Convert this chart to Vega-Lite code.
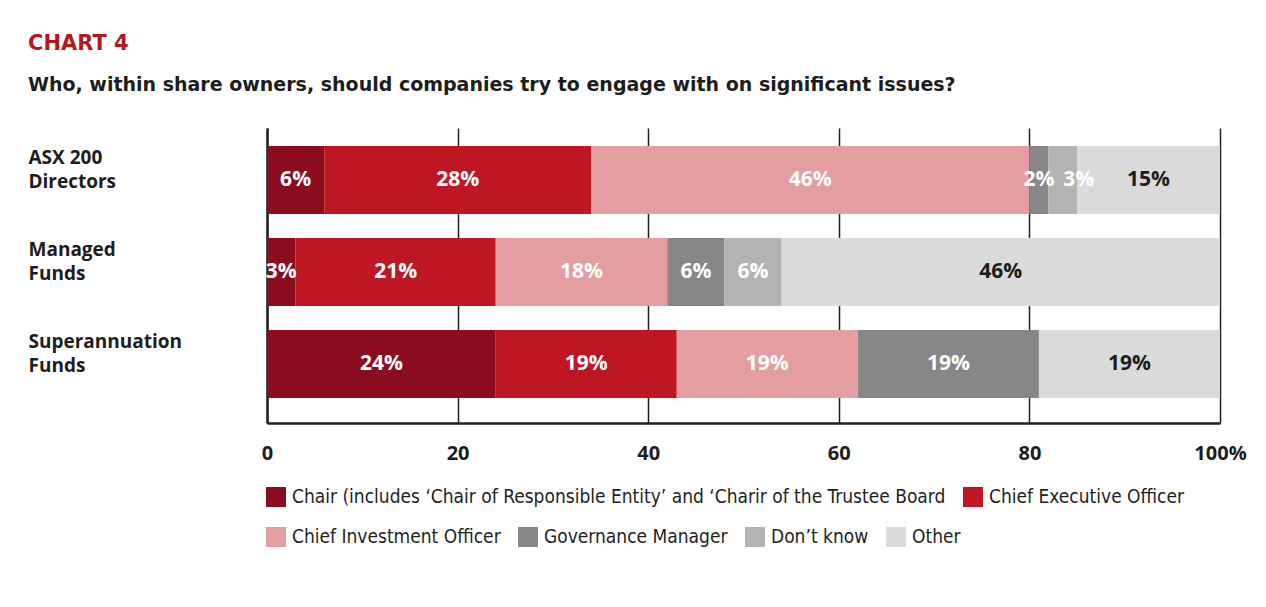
{
  "$schema": "https://vega.github.io/schema/vega-lite/v6.json",
  "width": 953,
  "height": 295,
  "autosize": {"type": "none"},
  "padding": {"left": 267, "top": 128, "right": 46, "bottom": 184},
  "background": "white",
  "title": {
    "text": "CHART 4",
    "subtitle": "Who, within share owners, should companies try to engage with on significant issues?",
    "anchor": "start",
    "frame": "group",
    "dx": -239,
    "offset": 33,
    "font": "DejaVu Sans",
    "fontSize": 21,
    "fontWeight": "bold",
    "color": "#B5171E",
    "subtitleFont": "DejaVu Sans",
    "subtitleFontSize": 19,
    "subtitleFontWeight": "bold",
    "subtitleColor": "#1d1d1b",
    "subtitlePadding": 22
  },
  "data": {
    "values": [
      {"group": "ASX 200 Directors", "role": "Chair (includes ‘Chair of Responsible Entity’ and ‘Charir of the Trustee Board", "value": 6},
      {"group": "ASX 200 Directors", "role": "Chief Executive Officer", "value": 28},
      {"group": "ASX 200 Directors", "role": "Chief Investment Officer", "value": 46},
      {"group": "ASX 200 Directors", "role": "Governance Manager", "value": 2},
      {"group": "ASX 200 Directors", "role": "Don’t know", "value": 3},
      {"group": "ASX 200 Directors", "role": "Other", "value": 15},
      {"group": "Managed Funds", "role": "Chair (includes ‘Chair of Responsible Entity’ and ‘Charir of the Trustee Board", "value": 3},
      {"group": "Managed Funds", "role": "Chief Executive Officer", "value": 21},
      {"group": "Managed Funds", "role": "Chief Investment Officer", "value": 18},
      {"group": "Managed Funds", "role": "Governance Manager", "value": 6},
      {"group": "Managed Funds", "role": "Don’t know", "value": 6},
      {"group": "Managed Funds", "role": "Other", "value": 46},
      {"group": "Superannuation Funds", "role": "Chair (includes ‘Chair of Responsible Entity’ and ‘Charir of the Trustee Board", "value": 24},
      {"group": "Superannuation Funds", "role": "Chief Executive Officer", "value": 19},
      {"group": "Superannuation Funds", "role": "Chief Investment Officer", "value": 19},
      {"group": "Superannuation Funds", "role": "Governance Manager", "value": 19},
      {"group": "Superannuation Funds", "role": "Other", "value": 19}
    ]
  },
  "transform": [
    {"window": [{"op": "row_number", "as": "k"}], "groupby": ["group"]}
  ],
  "encoding": {
    "y": {
      "field": "group",
      "type": "nominal",
      "sort": ["ASX 200 Directors", "Managed Funds", "Superannuation Funds"],
      "scale": {"paddingInner": 0.26, "paddingOuter": 0.2335, "align": 0.42},
      "axis": {
        "title": null,
        "ticks": false,
        "tickSize": 0,
        "domain": true,
        "domainColor": "#231F20",
        "domainWidth": 2.5,
        "labelAlign": "left",
        "labelBaseline": "middle",
        "labelPadding": 239,
        "labelOffset": -22,
        "labelFont": "Open Sans",
        "labelFontSize": 19,
        "labelFontWeight": "bold",
        "labelColor": "#1d1d1b",
        "labelLineHeight": 24,
        "labelLimit": 400,
        "labelExpr": "datum.value == 'ASX 200 Directors' ? ['ASX 200', 'Directors'] : datum.value == 'Managed Funds' ? ['Managed', 'Funds'] : ['Superannuation', 'Funds']"
      }
    }
  },
  "layer": [
    {
      "mark": {"type": "bar", "cornerRadius": 0},
      "encoding": {
        "x": {
          "field": "value",
          "type": "quantitative",
          "stack": "zero",
          "scale": {"domain": [0, 100], "nice": false},
          "axis": {
            "title": null,
            "values": [0, 20, 40, 60, 80, 100],
            "grid": true,
            "gridColor": "#231F20",
            "gridWidth": 1.5,
            "gridOpacity": 1,
            "ticks": false,
            "domain": true,
            "domainColor": "#231F20",
            "domainWidth": 2.5,
            "labelPadding": 20,
            "labelFont": "Open Sans",
            "labelFontSize": 20,
            "labelFontWeight": "bold",
            "labelColor": "#1d1d1b",
            "labelFlush": false,
            "labelBaseline": "top",
            "labelExpr": "datum.value == 100 ? '100%' : datum.label"
          }
        },
        "color": {
          "field": "role",
          "type": "nominal",
          "scale": {
            "domain": ["Chair (includes ‘Chair of Responsible Entity’ and ‘Charir of the Trustee Board", "Chief Executive Officer", "Chief Investment Officer", "Governance Manager", "Don’t know", "Other"],
            "range": ["#8A0C1E", "#BE1622", "#E49EA1", "#878787", "#B3B3B2", "#DBDBDB"]
          },
          "legend": {
            "title": null,
            "orient": "none",
            "legendX": -1,
            "legendY": 359,
            "direction": "horizontal",
            "values": ["Chair (includes ‘Chair of Responsible Entity’ and ‘Charir of the Trustee Board", "Chief Executive Officer"],
            "symbolType": "square",
            "symbolSize": 400,
            "symbolStrokeWidth": 0,
            "labelOffset": 6,
            "columnPadding": 17,
            "labelFont": "Liberation Sans Narrow, DejaVu Sans Condensed, sans-serif",
            "labelFontSize": 19,
            "labelColor": "#231F20",
            "labelLimit": 900
          }
        },
        "order": {"field": "k", "type": "quantitative"}
      }
    },
    {
      "transform": [{"filter": "datum.role != 'Chief Executive Officer' && indexof(datum.role, 'Chair (') != 0"}],
      "mark": {"type": "bar", "opacity": 0, "strokeWidth": 0},
      "encoding": {
        "x": {"field": "value", "type": "quantitative", "stack": "zero"},
        "fill": {
          "field": "role",
          "type": "nominal",
          "scale": {
            "domain": ["Chief Investment Officer", "Governance Manager", "Don’t know", "Other"],
            "range": ["#E49EA1", "#878787", "#B3B3B2", "#DBDBDB"]
          },
          "legend": {
            "title": null,
            "orient": "none",
            "legendX": -1,
            "legendY": 399,
            "direction": "horizontal",
            "symbolType": "square",
            "symbolSize": 400,
            "symbolOpacity": 1,
            "symbolStrokeWidth": 0,
            "labelOffset": 6,
            "columnPadding": 17,
            "labelFont": "Liberation Sans Narrow, DejaVu Sans Condensed, sans-serif",
            "labelFontSize": 19,
            "labelColor": "#231F20",
            "labelLimit": 900
          }
        },
        "order": {"field": "k", "type": "quantitative"}
      }
    },
    {
      "mark": {"type": "text", "font": "Open Sans", "fontSize": 21, "fontWeight": "bold", "align": "center", "baseline": "middle", "text": {"expr": "datum.group == 'ASX 200 Directors' && datum.role == 'Don’t know' ? '' : datum.value + '%'"}},
      "encoding": {
        "x": {"field": "value", "type": "quantitative", "stack": "zero", "bandPosition": 0.5},
        "detail": {"field": "role", "type": "nominal"},
        "order": {"field": "k", "type": "quantitative"},
        "color": {"condition": {"test": "datum.role == 'Other'", "value": "#1d1d1b"}, "value": "#ffffff"}
      }
    },
    {
      "mark": {"type": "text", "font": "Open Sans", "fontSize": 21, "fontWeight": "bold", "align": "center", "baseline": "middle", "dx": 16, "color": "#ffffff", "text": {"expr": "datum.group == 'ASX 200 Directors' && datum.role == 'Don’t know' ? datum.value + '%' : ''"}},
      "encoding": {
        "x": {"field": "value", "type": "quantitative", "stack": "zero", "bandPosition": 0.5},
        "detail": {"field": "role", "type": "nominal"},
        "order": {"field": "k", "type": "quantitative"}
      }
    }
  ],
  "config": {
    "view": {"stroke": null}
  }
}
